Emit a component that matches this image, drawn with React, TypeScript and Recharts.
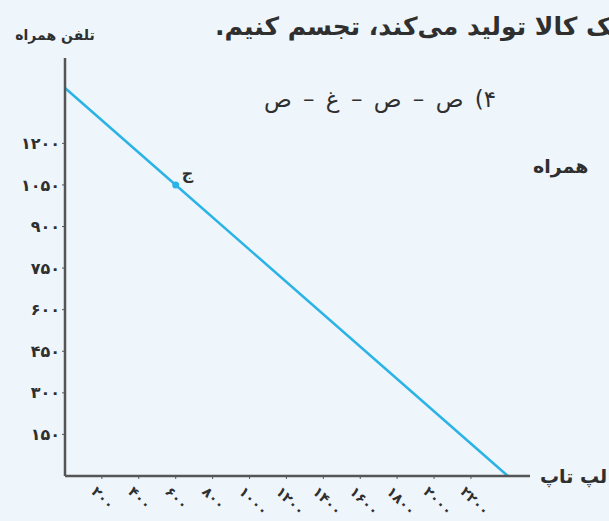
import React from 'react';
import { LineChart, Line, XAxis, YAxis, Label, LabelList } from 'recharts';

// production possibility line: laptops (x) vs mobile phones (y)
const xValues = [0, 600, 2400];
const yValues = [1400, 1050, 0];
const pointLabels = ['', 'ج', ''];
const xTicks = [200, 400, 600, 800, 1000, 1200, 1400, 1600, 1800, 2000, 2200];
const yTicks = [150, 300, 450, 600, 750, 900, 1050, 1200];

const data = xValues.map((x, i) => ({ x, y: yValues[i], label: pointLabels[i] }));

const FA_DIGITS = '۰۱۲۳۴۵۶۷۸۹';
const toFa = (n: number) => String(n).replace(/\d/g, (d) => FA_DIGITS[Number(d)]);

const FONT = '"DejaVu Sans", sans-serif';
const INK = '#2f2f2f';
const AXIS = '#555';
const LINE = '#2bb3e6';

const XTick = ({ x, y, payload }: any) => (
  <g transform={`translate(${x - 8},${y + 8}) rotate(45)`}>
    <text x={0} y={0} dy="0.35em" textAnchor="start" fill={INK} fontSize={14} fontWeight="bold" fontFamily={FONT}>
      {toFa(payload.value)}
    </text>
  </g>
);

const YTick = ({ x, y, payload }: any) => (
  <text x={x} y={y} dy="0.35em" textAnchor="end" fill={INK} fontSize={16} fontWeight="bold" fontFamily={FONT}>
    {toFa(payload.value)}
  </text>
);

const Dot = ({ cx, cy, index }: any) =>
  pointLabels[index] ? <circle key={index} cx={cx} cy={cy} r={3.5} fill={LINE} /> : <g key={index} />;

const PointLabel = ({ x, y, value }: any) =>
  value ? (
    <text x={x + 6} y={y - 6} fill={INK} fontSize={16} fontWeight="bold" fontFamily={FONT}>
      {value}
    </text>
  ) : null;

export default function App() {
  return (
    <div
      style={{
        position: 'absolute',
        left: 0,
        top: 0,
        width: 609,
        height: 521,
        overflow: 'hidden',
        background: '#eef5fb',
        fontFamily: FONT,
        color: INK,
      }}
    >
      {/* surrounding textbook text */}
      <div dir="rtl" style={{ position: 'absolute', right: -12, top: 12, fontSize: 25, fontWeight: 'bold', whiteSpace: 'nowrap' }}>
        یک کالا تولید می‌کند، تجسم کنیم.
      </div>
      <div dir="rtl" style={{ position: 'absolute', left: 250, width: 260, top: 86, fontSize: 23, textAlign: 'center', whiteSpace: 'nowrap', wordSpacing: 4 }}>
        ۴) ص – ص – غ – ص
      </div>
      <div dir="rtl" style={{ position: 'absolute', left: 533, top: 155, fontSize: 19, fontWeight: 'bold', whiteSpace: 'nowrap' }}>
        همراه
      </div>

      <LineChart
        width={609}
        height={521}
        data={data}
        margin={{ top: 58, right: 79, left: 5, bottom: 5 }}
        style={{ position: 'absolute', left: 0, top: 0, overflow: 'visible' }}
      >
        <XAxis
          dataKey="x"
          type="number"
          domain={[0, 2520]}
          ticks={xTicks}
          interval={0}
          height={40}
          axisLine={{ stroke: AXIS, strokeWidth: 2.5 }}
          tickLine={{ stroke: AXIS }}
          tickSize={3}
          tick={<XTick />}
        >
          <Label
            content={({ viewBox }: any) => (
              <text x={viewBox.x + viewBox.width + 10} y={viewBox.y + 7} textAnchor="start" fill={INK} fontSize={19} fontWeight="bold" fontFamily={FONT}>
                لپ تاپ
              </text>
            )}
          />
        </XAxis>
        <YAxis
          dataKey="y"
          type="number"
          domain={[0, 1508]}
          ticks={yTicks}
          interval={0}
          width={60}
          axisLine={{ stroke: AXIS, strokeWidth: 2.5 }}
          tickLine={{ stroke: AXIS }}
          tickSize={3}
          tick={<YTick />}
        >
          <Label
            content={({ viewBox }: any) => (
              <text x={viewBox.x + 50} y={viewBox.y - 18} textAnchor="middle" fill={INK} fontSize={14} fontWeight="bold" fontFamily={FONT}>
                تلفن همراه
              </text>
            )}
          />
        </YAxis>
        <Line
          type="linear"
          dataKey="y"
          stroke={LINE}
          strokeWidth={2.5}
          dot={<Dot />}
          activeDot={false}
          isAnimationActive={false}
        >
          <LabelList dataKey="label" content={<PointLabel />} />
        </Line>
      </LineChart>
    </div>
  );
}
